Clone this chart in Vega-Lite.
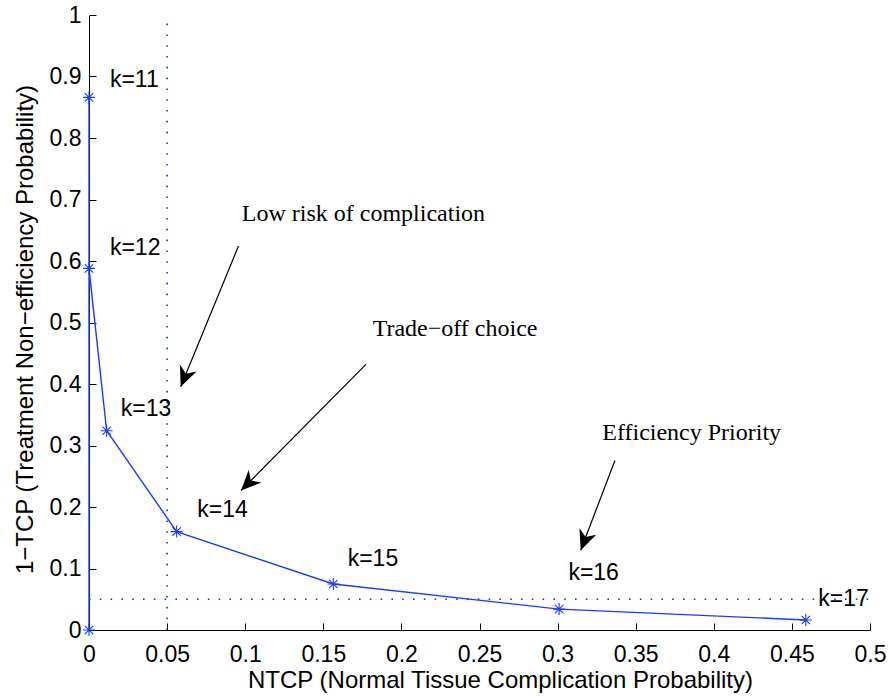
{
  "$schema": "https://vega.github.io/schema/vega-lite/v6.json",
  "width": 781,
  "height": 615,
  "autosize": "none",
  "padding": {"left": 89, "top": 15, "right": 21, "bottom": 68},
  "background": "white",
  "config": {
    "view": {"stroke": null},
    "axis": {
      "grid": false,
      "domainColor": "black",
      "tickColor": "black",
      "labelColor": "black",
      "titleColor": "black",
      "labelFont": "Liberation Sans",
      "titleFont": "Liberation Sans",
      "labelFontSize": 23,
      "titleFontSize": 24,
      "titleFontWeight": "normal",
      "tickSize": -7,
      "labelFlush": false,
      "labelOverlap": false
    }
  },
  "datasets": {
    "front": [
      {"k": 10, "x": 0, "y": 0, "o": 0},
      {"k": 11, "x": 0, "y": 0.866, "o": 1},
      {"k": 12, "x": 0, "y": 0.588, "o": 2},
      {"k": 13, "x": 0.0113, "y": 0.324, "o": 3},
      {"k": 14, "x": 0.0561, "y": 0.16, "o": 4},
      {"k": 15, "x": 0.1564, "y": 0.0748, "o": 5},
      {"k": 16, "x": 0.301, "y": 0.034, "o": 6},
      {"k": 17, "x": 0.4589, "y": 0.0163, "o": 7}
    ],
    "klabels": [
      {"label": "k=11", "x": 0.0134, "y": 0.894},
      {"label": "k=12", "x": 0.0134, "y": 0.621},
      {"label": "k=13", "x": 0.0203, "y": 0.359},
      {"label": "k=14", "x": 0.0693, "y": 0.195},
      {"label": "k=15", "x": 0.1656, "y": 0.1154},
      {"label": "k=16", "x": 0.3069, "y": 0.0919},
      {"label": "k=17", "x": 0.4669, "y": 0.0504}
    ],
    "refs": [
      {"x": 0.05, "y": 0, "x2": 0.05, "y2": 1},
      {"x": 0, "y": 0.05, "x2": 0.5, "y2": 0.05}
    ],
    "arrows": [
      {"x": 0.0587, "y": 0.3956, "x2": 0.0957, "y2": 0.6244, "angle": 202.3},
      {"x": 0.0973, "y": 0.2268, "x2": 0.1773, "y2": 0.432, "angle": 224.6},
      {"x": 0.3148, "y": 0.1298, "x2": 0.3367, "y2": 0.2756, "angle": 200.9}
    ],
    "notes": [
      {"text": "Low risk of complication", "x": 0.0978, "y": 0.6655},
      {"text": "Trade−off choice", "x": 0.1816, "y": 0.478},
      {"text": "Efficiency Priority", "x": 0.3286, "y": 0.3089}
    ]
  },
  "encoding": {
    "x": {
      "field": "x",
      "type": "quantitative",
      "scale": {"domain": [0, 0.5], "nice": false, "zero": false},
      "axis": {
        "title": "NTCP (Normal Tissue Complication Probability)",
        "values": [0, 0.05, 0.1, 0.15, 0.2, 0.25, 0.3, 0.35, 0.4, 0.45, 0.5],
        "format": "~g",
        "labelPadding": 20,
        "titleX": 411,
        "titleY": 57,
        "titleBaseline": "alphabetic"
      }
    },
    "y": {
      "field": "y",
      "type": "quantitative",
      "scale": {"domain": [0, 1], "nice": false, "zero": false},
      "axis": {
        "title": "1−TCP (Treatment Non−efficiency Probability)",
        "values": [0, 0.1, 0.2, 0.3, 0.4, 0.5, 0.6, 0.7, 0.8, 0.9, 1],
        "format": "~g",
        "labelPadding": 15,
        "titleX": -57,
        "titleY": 314,
        "titleBaseline": "alphabetic"
      }
    }
  },
  "layer": [
    {
      "data": {"name": "refs"},
      "mark": {"type": "rule", "color": "#0033ff", "strokeWidth": 1.6, "strokeDash": [1.6, 9.2]},
      "encoding": {"x2": {"field": "x2"}, "y2": {"field": "y2"}}
    },
    {
      "data": {"name": "front"},
      "mark": {"type": "line", "color": "#1a3cff", "strokeWidth": 1.4},
      "encoding": {"order": {"field": "o", "type": "quantitative"}}
    },
    {
      "data": {"name": "front"},
      "mark": {
        "type": "point",
        "shape": "M -1 0 L 1 0 M 0 -1 L 0 1 M -0.7 -0.7 L 0.7 0.7 M -0.7 0.7 L 0.7 -0.7",
        "filled": false,
        "stroke": "#1a3cff",
        "strokeWidth": 1.1,
        "size": 144,
        "opacity": 1
      }
    },
    {
      "data": {"name": "klabels"},
      "mark": {"type": "text", "align": "left", "baseline": "middle", "font": "Liberation Sans", "fontSize": 23, "color": "black"},
      "encoding": {"text": {"field": "label"}}
    },
    {
      "data": {"name": "arrows"},
      "mark": {"type": "rule", "color": "black", "strokeWidth": 1.2},
      "encoding": {"x2": {"field": "x2"}, "y2": {"field": "y2"}}
    },
    {
      "data": {"name": "arrows"},
      "mark": {
        "type": "point",
        "shape": "M 0 0 L 0.45 1 L 0 0.7 L -0.45 1 Z",
        "filled": true,
        "color": "black",
        "size": 1600,
        "opacity": 1
      },
      "encoding": {"angle": {"field": "angle", "type": "quantitative", "scale": null}}
    },
    {
      "data": {"name": "notes"},
      "mark": {"type": "text", "align": "left", "baseline": "alphabetic", "font": "Liberation Serif", "fontSize": 24, "color": "black"},
      "encoding": {"text": {"field": "text"}}
    }
  ]
}
